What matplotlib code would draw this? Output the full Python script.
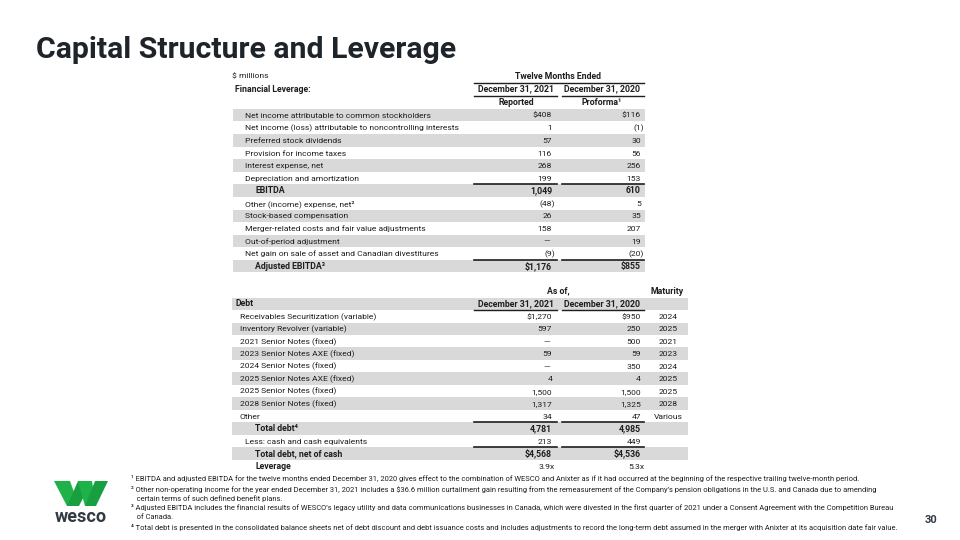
import matplotlib.pyplot as plt
from matplotlib.patches import Rectangle, Polygon

plt.rcParams['font.family'] = ['Roboto', 'DejaVu Sans']

# Financial leverage table (twelve months ended)
fin_labels = ['Net income attributable to common stockholders',
              'Net income (loss) attributable to noncontrolling interests',
              'Preferred stock dividends',
              'Provision for income taxes',
              'Interest expense, net',
              'Depreciation and amortization',
              'EBITDA',
              'Other (income) expense, net²',
              'Stock-based compensation',
              'Merger-related costs and fair value adjustments',
              'Out-of-period adjustment',
              'Net gain on sale of asset and Canadian divestitures',
              'Adjusted EBITDA³']
fin_2021 = [408, 1, 57, 116, 268, 199, 1049, -48, 26, 158, None, -9, 1176]
fin_2020 = [116, -1, 30, 56, 256, 153, 610, 5, 35, 207, 19, -20, 855]
fin_dollar = [0, 12]
fin_bold = [6, 12]

# Debt table (as of)
debt_labels = ['Receivables Securitization (variable)',
               'Inventory Revolver (variable)',
               '2021 Senior Notes (fixed)',
               '2023 Senior Notes AXE (fixed)',
               '2024 Senior Notes (fixed)',
               '2025 Senior Notes AXE (fixed)',
               '2025 Senior Notes (fixed)',
               '2028 Senior Notes (fixed)',
               'Other',
               'Total debt⁴',
               'Less: cash and cash equivalents',
               'Total debt, net of cash']
debt_2021 = [1270, 597, None, 59, None, 4, 1500, 1317, 34, 4781, 213, 4568]
debt_2020 = [950, 250, 500, 59, 350, 4, 1500, 1325, 47, 4985, 449, 4536]
maturity = ['2024', '2025', '2021', '2023', '2024', '2025', '2025', '2028', 'Various', '', '', '']
debt_dollar = [0, 11]
debt_bold = [9, 11]
leverage = [3.9, 5.3]

footnotes = [
    '¹ EBITDA and adjusted EBITDA for the twelve months ended December 31, 2020 gives effect to the combination of WESCO and Anixter as if it had occurred at the beginning of the respective trailing twelve-month period.',
    '² Other non-operating income for the year ended December 31, 2021 includes a $36.6 million curtailment gain resulting from the remeasurement of the Company\u2019s pension obligations in the U.S. and Canada due to amending',
    '   certain terms of such defined benefit plans.',
    '³ Adjusted EBITDA includes the financial results of WESCO\u2019s legacy utility and data communications businesses in Canada, which were divested in the first quarter of 2021 under a Consent Agreement with the Competition Bureau',
    '   of Canada.',
    '⁴ Total debt is presented in the consolidated balance sheets net of debt discount and debt issuance costs and includes adjustments to record the long-term debt assumed in the merger with Anixter at its acquisition date fair value.',
]

ink = '#1e1e1e'
fs = 6.1      # regular table text
fb = 6.3      # bold table text
dy = 2.6      # baseline offset below row centre


def fmt(v, dollar):
    if v is None:
        return '\u2014'
    s = '{:,}'.format(abs(v))
    if dollar:
        s = '$' + s
    if v < 0:
        s = '(' + s + ')'
    return s


def txt(ax, x, y, s, bold=False, ha='left'):
    ax.text(x, y + dy, s, ha=ha, va='baseline', fontsize=fb if bold else fs,
            color=ink, weight='bold' if bold else 'normal')


def put_value(ax, x, y, v, dollar, bold):
    s = fmt(v, dollar)
    if v is None:
        txt(ax, x - 5, y, s, bold, 'center')
    elif v < 0:
        txt(ax, x + 3, y, s, bold, 'right')
    else:
        txt(ax, x, y, s, bold, 'right')


fig = plt.figure(figsize=(9.6, 5.4), dpi=100)
ax = fig.add_axes([0, 0, 1, 1])
ax.set_xlim(0, 960)
ax.set_ylim(540, 0)
ax.axis('off')

shade = '#d9d9d9'
c1, c2 = 552, 641          # right edges of value columns
l1, l2 = (474, 557), (562, 644)

ax.text(36, 50, 'Capital Structure and Leverage', fontsize=21.8, weight='bold',
        color='#1f242b', va='center', ha='left')

# ---- top table ----
txt(ax, 232, 76, '$ millions')
txt(ax, 558, 76, 'Twelve Months Ended', True, 'center')
ax.plot([474, 644], [83, 83], color=ink, lw=1)
txt(ax, 235, 89, 'Financial Leverage:', True)
txt(ax, 516, 89, 'December 31, 2021', True, 'center')
txt(ax, 602, 89, 'December 31, 2020', True, 'center')
for a, b in (l1, l2):
    ax.plot([a, b], [96, 96], color=ink, lw=1)
txt(ax, 516, 102, 'Reported', True, 'center')
txt(ax, 602, 102, 'Proforma¹', True, 'center')

y0, pitch = 115.2, 12.58
for i, lab in enumerate(fin_labels):
    y = y0 + i * pitch
    if i % 2 == 0:
        ax.add_patch(Rectangle((233, y - pitch / 2), 412, pitch, color=shade, lw=0, zorder=0))
    bold = i in fin_bold
    txt(ax, 255 if bold else 245, y, lab, bold)
    put_value(ax, c1, y, fin_2021[i], i in fin_dollar, bold)
    put_value(ax, c2, y, fin_2020[i], i in fin_dollar, bold)
    if bold:
        for a, b in (l1, l2):
            ax.plot([a, b], [y - pitch / 2, y - pitch / 2], color=ink, lw=1.2)

# ---- debt table ----
txt(ax, 558, 291, 'As of,', True, 'center')
txt(ax, 684, 291, 'Maturity', True, 'right')
yd, pd_ = 303.8, 12.47
ax.add_patch(Rectangle((232, yd - pd_ / 2), 456, pd_, color=shade, lw=0, zorder=0))
txt(ax, 235, yd, 'Debt', True)
txt(ax, 516, yd, 'December 31, 2021', True, 'center')
txt(ax, 602, yd, 'December 31, 2020', True, 'center')
for a, b in (l1, l2):
    ax.plot([a, b], [yd + pd_ / 2, yd + pd_ / 2], color=ink, lw=1)

for i, lab in enumerate(debt_labels):
    y = yd + (i + 1) * pd_
    if i % 2 == 1:
        ax.add_patch(Rectangle((232, y - pd_ / 2), 456, pd_, color=shade, lw=0, zorder=0))
    bold = i in debt_bold
    x = 255 if bold else (245 if lab.startswith('Less') else 240)
    txt(ax, x, y, lab, bold)
    put_value(ax, c1, y, debt_2021[i], i in debt_dollar, bold)
    put_value(ax, c2, y, debt_2020[i], i in debt_dollar, bold)
    if maturity[i]:
        txt(ax, 668, y, maturity[i], False, 'center')
    if bold:
        for a, b in (l1, l2):
            ax.plot([a, b], [y - pd_ / 2, y - pd_ / 2], color=ink, lw=1.2)

y = yd + (len(debt_labels) + 1) * pd_
txt(ax, 255, y, 'Leverage', True)
txt(ax, c1 + 3, y, '{:.1f}x'.format(leverage[0]), False, 'right')
txt(ax, c2 + 3, y, '{:.1f}x'.format(leverage[1]), False, 'right')

# ---- footnotes ----
fy = [479, 490, 499, 508, 517, 528]
for t, yy in zip(footnotes, fy):
    ax.text(131, yy + 2, t, fontsize=5.45, color=ink, va='baseline')

ax.text(931, 520, '30', fontsize=8, weight='bold', color='#333a44', ha='center', va='center')

# ---- logo ----
for pts, col in (([(54, 481), (70, 481), (79, 506), (67, 506)], '#1fb24a'),
                 ([(67, 506), (79, 506), (92, 481), (78, 481)], '#18a040'),
                 ([(78, 481), (92, 481), (96, 506), (85, 506)], '#1fb24a'),
                 ([(85, 506), (96, 506), (108, 481), (95, 481)], '#18a040')):
    ax.add_patch(Polygon(pts, closed=True, color=col, lw=0))
ax.text(81, 517, 'wesco', fontsize=13, weight='bold', color='#333a44', ha='center', va='center')

fig.savefig('out.png', dpi=100)
